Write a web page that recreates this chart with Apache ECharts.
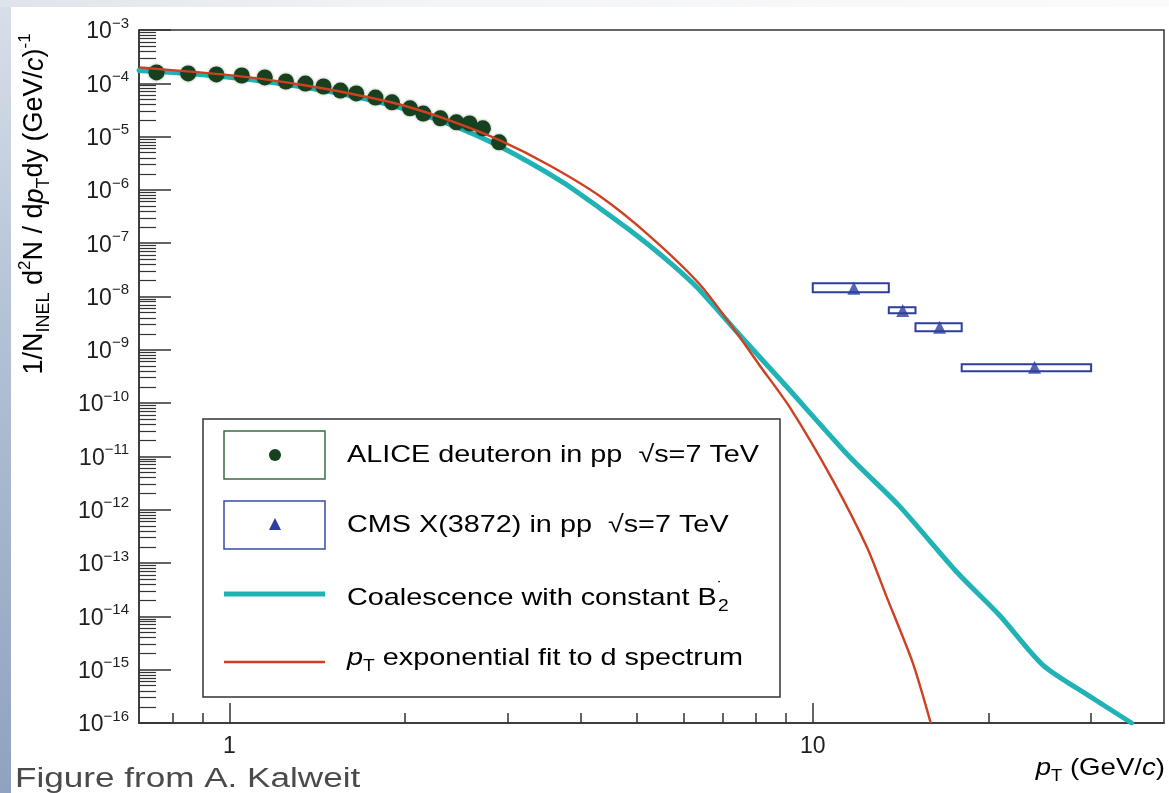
<!DOCTYPE html>
<html>
<head>
<meta charset="utf-8">
<script src="https://cdn.jsdelivr.net/npm/echarts@6/dist/echarts.min.js"></script>
<style>
  html, body { margin: 0; padding: 0; background: #ffffff; }
  #chart { width: 1169px; height: 793px; }
</style>
</head>
<body>
<div id="chart"></div>
<script>
// ALICE deuteron spectrum in pp at sqrt(s) = 7 TeV: [pT (GeV/c), yield]
const aliceDeuteron = [
  [0.75, 1.60e-4], [0.85, 1.53e-4], [0.95, 1.47e-4], [1.05, 1.40e-4],
  [1.15, 1.29e-4], [1.25, 1.08e-4], [1.35, 9.9e-5], [1.45, 8.7e-5],
  [1.55, 7.3e-5], [1.65, 6.45e-5], [1.78, 5.4e-5], [1.9, 4.4e-5],
  [2.04, 3.4e-5], [2.15, 2.7e-5], [2.3, 2.2e-5], [2.45, 1.85e-5],
  [2.58, 1.77e-5], [2.72, 1.43e-5], [2.9, 7.8e-6]
];

// CMS X(3872) in pp at sqrt(s) = 7 TeV
const cmsPtLow     = [10, 13.5, 15, 18];
const cmsPtHigh    = [13.5, 15, 18, 30];
const cmsPt        = [11.76, 14.26, 16.5, 24.0];
const cmsYield     = [1.43e-8, 5.5e-9, 2.65e-9, 4.72e-10];
const cmsYieldLow  = [1.2e-8, 4.85e-9, 2.23e-9, 3.97e-10];
const cmsYieldHigh = [1.77e-8, 6.3e-9, 3.15e-9, 5.37e-10];

// Coalescence with constant B2
const coalescenceCurve = [
  [0.7, 1.74e-4], [0.89, 1.47e-4], [1.084, 1.18e-4], [1.32, 8.7e-5],
  [1.61, 5.9e-5], [1.96, 3.5e-5], [2.39, 1.7e-5], [2.91, 6.5e-6],
  [3.73, 1.39e-6], [4.32, 4.5e-7], [4.86, 1.75e-7], [5.58, 5.2e-8],
  [6.33, 1.49e-8], [7.5, 1.88e-9], [8.88, 2.47e-10], [11.55, 1.0e-11],
  [14.08, 1.17e-12], [17.65, 6.8e-14], [20.9, 1.05e-14], [24.8, 1.22e-15],
  [29.8, 3.2e-16], [35.2, 1.0e-16]
];

// pT-exponential fit to the deuteron spectrum
const expFitCurve = [
  [0.7, 1.98e-4], [0.89, 1.60e-4], [1.084, 1.29e-4], [1.32, 9.5e-5],
  [1.61, 6.45e-5], [1.96, 4.0e-5], [2.39, 2.0e-5], [2.91, 8.5e-6],
  [3.54, 2.88e-6], [4.32, 7.6e-7], [5.26, 1.35e-7], [6.40, 1.70e-8],
  [7.35, 2.33e-9], [8.11, 5.1e-10], [9.13, 8.4e-11], [10.82, 3.6e-12],
  [12.38, 2.0e-13], [13.39, 2.3e-14], [14.84, 1.34e-15], [15.93, 1.0e-16]
];

// Axis ranges and tick labels
const xRange = [0.7, 40];
const yRange = [1e-16, 1e-3];
const xTickValues = [1, 10];
const xTickLabels = ['1', '10'];
const xMinorTickValues = [0.8, 0.9, 2, 3, 4, 5, 6, 7, 8, 9, 20, 30];
const yTickExponents = [-16, -15, -14, -13, -12, -11, -10, -9, -8, -7, -6, -5, -4, -3];
const yTickLabels = ['−16', '−15', '−14', '−13', '−12', '−11', '−10', '−9', '−8', '−7', '−6', '−5', '−4', '−3'];

const yTickValues = yTickExponents.map(e => Math.pow(10, e));
const yMinorTickValues = [];
yTickExponents.slice(0, -1).forEach(e => {
  for (let k = 2; k <= 9; k++) yMinorTickValues.push(k * Math.pow(10, e));
});

const cmsBoxes = cmsPtLow.map((lo, i) => [lo, cmsPtHigh[i], cmsYieldLow[i], cmsYieldHigh[i]]);
const cmsPoints = cmsPt.map((pt, i) => [pt, cmsYield[i]]);

const FONT = '"Liberation Sans", Arial, Helvetica, sans-serif';
const INK = '#1e1e1e';
const FRAME = '#333333';
const CYAN = '#20b2b4';
const RED = '#cf3f22';
const GREEN = '#16401e';
const BLUE = '#2c3e9e';

function nearestIndex(values, v) {
  let best = 0, bestD = Infinity;
  values.forEach((t, i) => {
    const d = Math.abs(Math.log10(t) - Math.log10(v));
    if (d < bestD) { bestD = d; best = i; }
  });
  return best;
}

function richText(size) {
  const sub = Math.round(size * 0.66);
  return {
    n: { fontSize: size, fontFamily: FONT, color: INK, lineHeight: size + 10 },
    i: { fontSize: size, fontFamily: FONT, fontStyle: 'italic', color: INK, lineHeight: size + 10 },
    s: { fontSize: sub, fontFamily: FONT, color: INK, lineHeight: 12, verticalAlign: 'bottom' },
    p: { fontSize: sub - 1, fontFamily: FONT, color: INK, lineHeight: 14, verticalAlign: 'top' },
    d: { fontSize: sub, fontFamily: FONT, color: INK, lineHeight: 14, verticalAlign: 'top', width: 1 }
  };
}

const chart = echarts.init(document.getElementById('chart'), null, { renderer: 'canvas' });

const axisCommon = {
  type: 'log',
  logBase: 10,
  splitLine: { show: false },
  minorTick: { show: false },
  minorSplitLine: { show: false }
};

chart.setOption({
  animation: false,
  backgroundColor: '#ffffff',
  grid: {
    left: 139, right: 5, top: 30, bottom: 70,
    show: true, borderColor: FRAME, borderWidth: 1.5, backgroundColor: '#ffffff',
    containLabel: false, outerBoundsMode: 'none'
  },
  xAxis: [
    Object.assign({}, axisCommon, {
      min: xRange[0], max: xRange[1], position: 'bottom',
      axisLine: { show: true, onZero: false, lineStyle: { color: FRAME, width: 1.5 } },
      axisTick: { show: true, inside: true, length: 20, customValues: xTickValues, lineStyle: { color: FRAME, width: 1.5 } },
      axisLabel: {
        show: true, customValues: xTickValues, margin: 12,
        fontSize: 23, fontFamily: FONT, color: INK,
        formatter: v => xTickLabels[nearestIndex(xTickValues, v)]
      }
    }),
    Object.assign({}, axisCommon, {
      min: xRange[0], max: xRange[1], position: 'bottom',
      axisLine: { show: false, onZero: false },
      axisTick: { show: true, inside: true, length: 10, customValues: xMinorTickValues, lineStyle: { color: FRAME, width: 1.5 } },
      axisLabel: { show: false }
    })
  ],
  yAxis: [
    Object.assign({}, axisCommon, {
      min: yRange[0], max: yRange[1], position: 'left',
      axisLine: { show: true, onZero: false, lineStyle: { color: FRAME, width: 1.5 } },
      axisTick: { show: true, inside: true, length: 32, customValues: yTickValues, lineStyle: { color: FRAME, width: 1.5 } },
      axisLabel: {
        show: true, customValues: yTickValues, margin: 10,
        formatter: v => '{b|10}{e|' + yTickLabels[nearestIndex(yTickValues, v)] + '}',
        rich: {
          b: { fontSize: 23, fontFamily: FONT, color: INK, lineHeight: 28, padding: [4, 0, 0, 0] },
          e: { fontSize: 15, fontFamily: FONT, color: INK, lineHeight: 14, verticalAlign: 'top' }
        }
      }
    }),
    Object.assign({}, axisCommon, {
      min: yRange[0], max: yRange[1], position: 'left',
      axisLine: { show: false, onZero: false },
      axisTick: { show: true, inside: true, length: 17, customValues: yMinorTickValues, lineStyle: { color: FRAME, width: 1.2 } },
      axisLabel: { show: false }
    })
  ],
  series: [
    {
      name: 'Coalescence with constant B2',
      type: 'line', xAxisIndex: 0, yAxisIndex: 0,
      data: coalescenceCurve, showSymbol: false, symbol: 'none',
      smooth: 0.25,
      lineStyle: { color: CYAN, width: 5, cap: 'round', join: 'round' },
      z: 2
    },
    {
      name: 'ALICE deuteron',
      type: 'scatter', xAxisIndex: 0, yAxisIndex: 0,
      data: aliceDeuteron, symbol: 'circle', symbolSize: 16,
      itemStyle: { color: GREEN, shadowColor: 'rgba(22,64,30,0.45)', shadowBlur: 3, opacity: 1 },
      z: 3
    },
    {
      name: 'pT exponential fit',
      type: 'line', xAxisIndex: 0, yAxisIndex: 0,
      data: expFitCurve, showSymbol: false, symbol: 'none',
      smooth: 0.25,
      lineStyle: { color: RED, width: 2.4, join: 'round' },
      z: 4
    },
    {
      name: 'CMS X(3872) boxes',
      type: 'custom', xAxisIndex: 0, yAxisIndex: 0,
      data: cmsBoxes,
      encode: { x: [0, 1], y: [2, 3] },
      renderItem: function (params, api) {
        const p0 = api.coord([api.value(0), api.value(3)]);
        const p1 = api.coord([api.value(1), api.value(2)]);
        return {
          type: 'rect',
          shape: { x: p0[0], y: p0[1], width: p1[0] - p0[0], height: p1[1] - p0[1] },
          style: { fill: '#ffffff', stroke: BLUE, lineWidth: 2 }
        };
      },
      z: 5
    },
    {
      name: 'CMS X(3872)',
      type: 'scatter', xAxisIndex: 0, yAxisIndex: 0,
      data: cmsPoints, symbol: 'triangle', symbolSize: 13,
      itemStyle: { color: BLUE },
      z: 6
    }
  ],
  graphic: [
    // slide backdrop at the page edges
    {
      type: 'rect', left: 0, top: 0, z: -10, silent: true,
      shape: { width: 11, height: 793 },
      style: { fill: new echarts.graphic.LinearGradient(0, 0, 0, 1, [
        { offset: 0, color: '#d9dfe8' }, { offset: 0.4, color: '#b4c2d6' }, { offset: 1, color: '#8fa2bf' }
      ]) }
    },
    {
      type: 'rect', left: 0, top: 0, z: -10, silent: true,
      shape: { width: 1169, height: 7 },
      style: { fill: new echarts.graphic.LinearGradient(0, 0, 1, 0, [
        { offset: 0, color: '#dfe4ea' }, { offset: 0.35, color: '#f3f4f6' }, { offset: 1, color: '#fbfbfb' }
      ]) }
    },
    // y-axis title
    {
      type: 'text', x: 35, y: 204, rotation: Math.PI / 2, z: 10,
      style: {
        text: '{n|1/N}{s|INEL}{n| d}{p|2}{n|N / d}{i|p}{s|T}{n|dy (GeV/}{i|c}{n|)}{p|-1}',
        rich: richText(27), align: 'center', verticalAlign: 'middle'
      }
    },
    // x-axis title
    {
      type: 'text', x: 1165, y: 768, z: 10, scaleX: 1.15,
      style: {
        text: '{i|p}{s|T}{n| (GeV/}{i|c}{n|)}',
        rich: richText(24), align: 'right', verticalAlign: 'middle'
      }
    },
    // legend frame
    {
      type: 'rect', z: 10,
      shape: { x: 203, y: 419, width: 577, height: 278 },
      style: { fill: '#ffffff', stroke: FRAME, lineWidth: 1.5 }
    },
    {
      type: 'rect', z: 11,
      shape: { x: 224, y: 431, width: 101, height: 48 },
      style: { fill: '#ffffff', stroke: '#3a6b45', lineWidth: 1.5 }
    },
    {
      type: 'circle', z: 12,
      shape: { cx: 275, cy: 455, r: 6 },
      style: { fill: GREEN }
    },
    {
      type: 'rect', z: 11,
      shape: { x: 224, y: 501, width: 101, height: 48 },
      style: { fill: '#ffffff', stroke: '#3a4aa8', lineWidth: 1.5 }
    },
    {
      type: 'polygon', z: 12,
      shape: { points: [[275, 518], [281, 530], [269, 530]] },
      style: { fill: BLUE }
    },
    {
      type: 'line', z: 11,
      shape: { x1: 224, y1: 594, x2: 325, y2: 594 },
      style: { stroke: CYAN, lineWidth: 5 }
    },
    {
      type: 'line', z: 11,
      shape: { x1: 224, y1: 662, x2: 325, y2: 662 },
      style: { stroke: RED, lineWidth: 2.4 }
    },
    {
      type: 'text', x: 347, y: 455, z: 12, scaleX: 1.2,
      style: { text: '{n|ALICE deuteron in pp  √s=7 TeV}', rich: richText(24), align: 'left', verticalAlign: 'middle' }
    },
    {
      type: 'text', x: 347, y: 525, z: 12, scaleX: 1.2,
      style: { text: '{n|CMS X(3872) in pp  √s=7 TeV}', rich: richText(24), align: 'left', verticalAlign: 'middle' }
    },
    {
      type: 'text', x: 347, y: 598, z: 12, scaleX: 1.2,
      style: { text: '{n|Coalescence with constant B}{d|˙}{s|2}', rich: richText(24), align: 'left', verticalAlign: 'middle' }
    },
    {
      type: 'text', x: 347, y: 658, z: 12, scaleX: 1.2,
      style: { text: '{i|p}{s|T}{n| exponential fit to d spectrum}', rich: richText(24), align: 'left', verticalAlign: 'middle' }
    },
    // source note
    {
      type: 'text', x: 15, y: 780, z: 12, scaleX: 1.3,
      style: { text: 'Figure from A. Kalweit', font: '27px ' + FONT, fill: '#4a4a4a', align: 'left', verticalAlign: 'middle' }
    }
  ]
});
</script>
</body>
</html>
